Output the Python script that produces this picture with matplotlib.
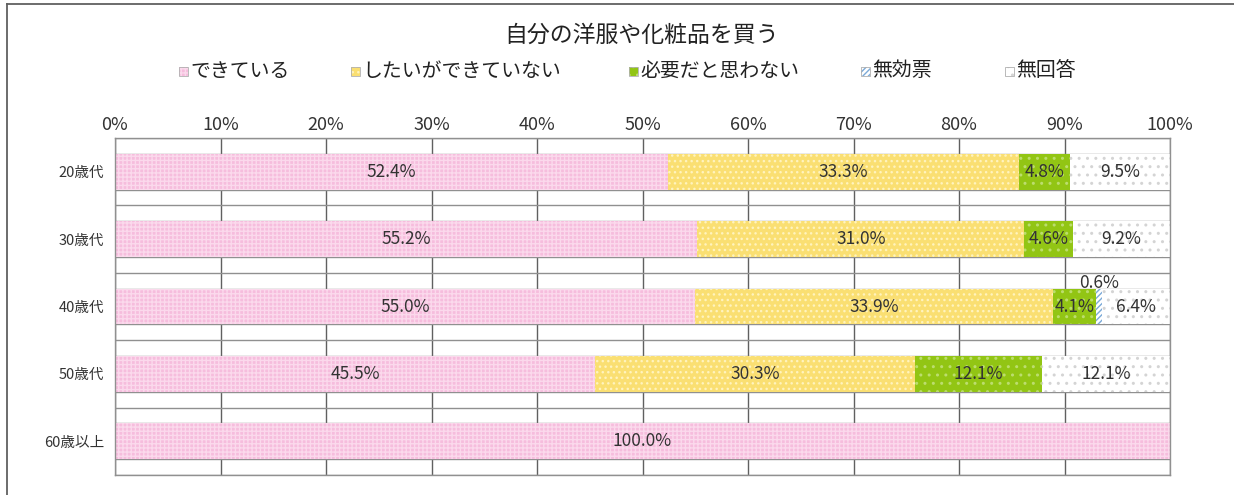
import matplotlib
matplotlib.use("Agg")
import matplotlib.pyplot as plt
from matplotlib.patches import Rectangle
from matplotlib.lines import Line2D
import numpy as np

plt.rcParams['font.family'] = ['Noto Sans CJK JP', 'DejaVu Sans']
plt.rcParams['hatch.linewidth'] = 1.0

title = "自分の洋服や化粧品を買う"
categories = ["20歳代", "30歳代", "40歳代", "50歳代", "60歳以上"]
series_names = ["できている", "したいができていない", "必要だと思わない", "無効票", "無回答"]
dekiteiru = [52.4, 55.2, 55.0, 45.5, 100.0]
shitai = [33.3, 31.0, 33.9, 30.3, 0.0]
hitsuyou = [4.8, 4.6, 4.1, 12.1, 0.0]
mukou = [0.0, 0.0, 0.6, 0.0, 0.0]
mukaitou = [9.5, 9.2, 6.4, 12.1, 0.0]
xticks = [0, 10, 20, 30, 40, 50, 60, 70, 80, 90, 100]
xticklabels = [f"{t}%" for t in xticks]

series = [dekiteiru, shitai, hitsuyou, mukou, mukaitou]
faces = ['#F6BDDD', '#FADF72', '#92C514', '#FFFFFF', '#FFFFFF']
hcols = ['#FBD9EC', '#FFF3BE', '#BCDD6E', '#7BAAD8', '#D4D4D4']
hatches = ['++++', '...', '..', '//////', '..']

fig = plt.figure(figsize=(12.34, 4.95), dpi=100)
ax = fig.add_axes([115/1234, 1-475/495, (1170-115)/1234, (475-138)/495])

y = np.arange(len(categories))
h = 0.53
left = np.zeros(len(categories))
for vals, fc, hc, ht in zip(series, faces, hcols, hatches):
    vals = np.array(vals)
    ax.barh(y, vals, left=left, height=h, color=fc, edgecolor=hc, hatch=ht,
            linewidth=0, zorder=2)
    for i, v in enumerate(vals):
        if v <= 0:
            continue
        cx = left[i] + v/2
        if v < 2:
            ax.text(cx, y[i] - h/2 - 0.08, f"{v:.1f}%", ha='center', va='center',
                    fontsize=12.5, color='#333333', zorder=5)
        else:
            ax.text(cx, y[i], f"{v:.1f}%", ha='center', va='center',
                    fontsize=12.5, color='#333333', zorder=5)
    left = left + vals

ax.set_xlim(0, 100)
ax.set_ylim(len(categories) - 0.5, -0.5)
ax.set_xticks(xticks)
ax.set_xticklabels(xticklabels)
ax.xaxis.tick_top()
ax.tick_params(axis='x', length=0, pad=3, labelsize=13, labelcolor='#333333')
ax.set_yticks(y)
ax.set_yticklabels(categories)
ax.tick_params(axis='y', length=0, pad=8, labelsize=10.5, labelcolor='#333333')
for xv in xticks:
    ax.axvline(xv, color='#606060', lw=1, zorder=1)
for yi in y:
    ax.axhline(yi - h/2, color='#909090', lw=1, zorder=1)
    ax.axhline(yi + h/2, color='#909090', lw=1, zorder=1)
for b in np.arange(len(categories) + 1) - 0.5:
    ax.axhline(b, color='#909090', lw=1, zorder=1)
for s in ax.spines.values():
    s.set_color('#909090')
    s.set_linewidth(1)

fig.text(641/1234, 1-35/495, title, ha='center', va='center', fontsize=16.5, color='#222222')

leg_x = [179, 351, 629, 861, 1005]
leg_y = 1 - 71/495
for name, fc, hc, ht, lx in zip(series_names, faces, hcols, hatches, leg_x):
    r = Rectangle((lx/1234, leg_y - 4.5/495), 9/1234, 9/495, transform=fig.transFigure,
                  facecolor=fc, edgecolor=hc, hatch=ht, linewidth=0)
    fig.add_artist(r)
    r2 = Rectangle((lx/1234, leg_y - 4.5/495), 9/1234, 9/495, transform=fig.transFigure,
                   facecolor='none', edgecolor='#B0B0B0', linewidth=0.6)
    fig.add_artist(r2)
    fig.text((lx + 11)/1234, leg_y, name, ha='left', va='center', fontsize=14.3, color='#222222')

fig.add_artist(Line2D([7/1234, 1], [1-4/495, 1-4/495], transform=fig.transFigure, color='#606060', lw=1.3))
fig.add_artist(Line2D([7/1234, 7/1234], [0, 1-4/495], transform=fig.transFigure, color='#606060', lw=1.3))

fig.savefig("out.png", dpi=100)
